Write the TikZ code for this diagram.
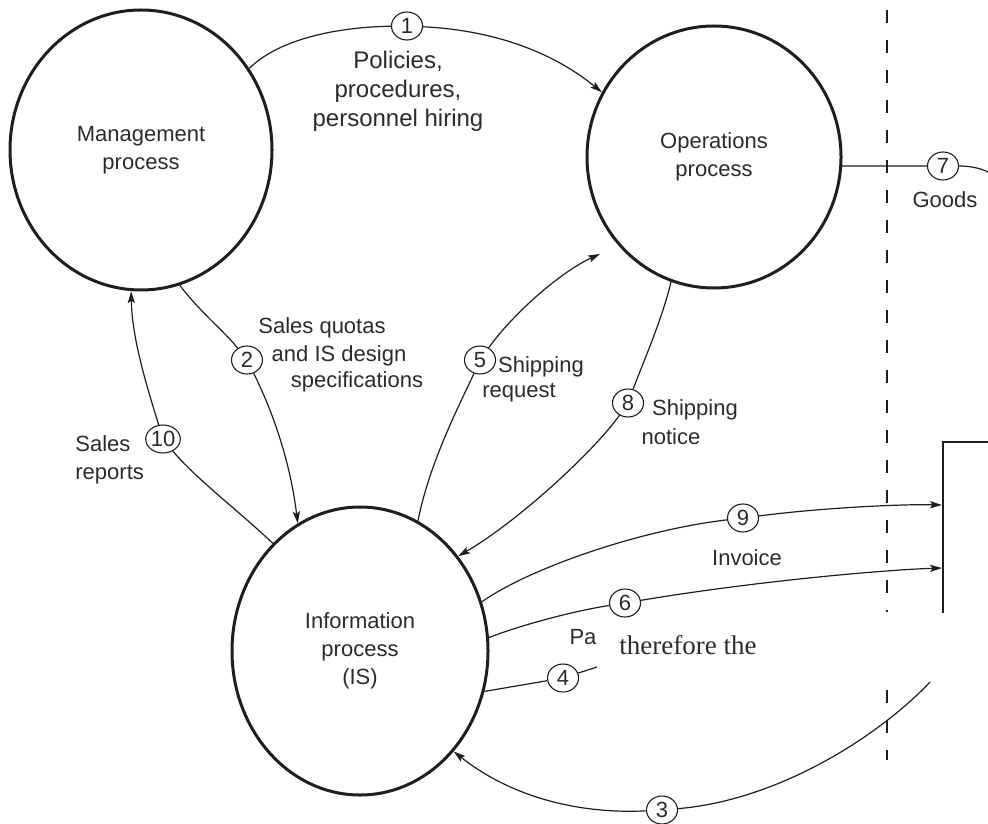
\documentclass[tikz,border=0pt]{standalone}
\usepackage{fontspec}
\setmainfont{Liberation Sans}
\newfontfamily\overlayserif{Liberation Serif}
\usetikzlibrary{arrows.meta,shapes.geometric}
\definecolor{ink}{HTML}{1E1E1E}
\definecolor{txt}{HTML}{2B2B2B}

\begin{document}
\begin{tikzpicture}[x=0.5pt,y=-0.5pt,
  proc/.style={ellipse,draw=ink,line width=1.5pt,inner sep=0pt,align=center,
    font=\fontsize{11}{14}\selectfont,text=txt},
  num/.style={ellipse,draw=ink,line width=0.55pt,minimum width=15.5pt,
    minimum height=14pt,inner sep=0pt,font=\fontsize{11}{13}\selectfont,text=txt},
  flow/.style={draw=ink,line width=0.6pt},
  lbl/.style={font=\fontsize{11}{14}\selectfont,text=txt,inner sep=0pt,align=center},
  tip/.style={-{Stealth[length=6pt,width=3.6pt,inset=1.2pt]}},
  boundary/.style={draw=ink,line width=1pt,dash pattern=on 6.5pt off 8.5pt},
]
\useasboundingbox (0,0) rectangle (988,823);

% processes
\node[proc,minimum width=131pt,minimum height=140pt] (M) at (141,150) {Management\\process};
\node[proc,minimum width=127pt,minimum height=131pt] (O) at (714,157) {Operations\\process};
\node[proc,minimum width=128pt,minimum height=144pt] (I) at (360,651) {Information\\process\\(IS)};

% flow numbers
\node[num] (n1) at (407,26) {1};
\node[num] (n2) at (247,360) {2};
\node[num] (n3) at (662,810) {3};
\node[num] (n4) at (563,678) {4};
\node[num] (n5) at (480,360) {5};
\node[num] (n6) at (625,603) {6};
\node[num] (n7) at (943,166) {7};
\node[num] (n8) at (628,403) {8};
\node[num] (n9) at (743,518) {9};
\node[num] (n10) at (163,439) {10};

% free ends
\coordinate (t5) at (600,254);
\coordinate (t7) at (988,172);
\coordinate (t4) at (597,667);
\coordinate (s3) at (930,682);
\coordinate (b9) at (942,505);
\coordinate (b6) at (942,568);

% external entity (partly shown)
\draw[ink,line width=1pt] (988,442) -- (943,442) -- (943,613);

% system boundary
\draw[boundary] (887,10) -- (887,612);
\draw[boundary] (887,690) -- (887,760);

% flows
\draw[flow] (M.37) .. controls (280,38) and (340,27) .. (n1);
\draw[flow,tip] (n1) .. controls (490,30) and (550,50) .. (O.150);
\draw[flow] (M.-74) .. controls (200,312) and (225,332) .. (n2);
\draw[flow,tip] (n2) .. controls (272,410) and (290,460) .. (I.116);
\draw[flow] (I.129) .. controls (240,512) and (195,478) .. (n10);
\draw[flow,tip] (n10) .. controls (148,390) and (132,340) .. (M.-94);
\draw[flow] (I.66) .. controls (430,460) and (462,400) .. (n5);
\draw[flow,tip] (n5) .. controls (512,315) and (560,272) .. (t5);
\draw[flow] (O.-109) .. controls (662,320) and (642,365) .. (n8);
\draw[flow,tip] (n8) .. controls (595,450) and (520,520) .. (I.44);
\draw[flow] (O.-4) -- (n7);
\draw[flow] (n7) .. controls (966,166) and (978,167) .. (t7);
\draw[flow] (I.22) .. controls (530,568) and (640,530) .. (n9);
\draw[flow,tip] (n9) .. controls (820,508) and (900,504) .. (b9);
\draw[flow] (I.6) .. controls (530,622) and (580,610) .. (n6);
\draw[flow,tip] (n6) .. controls (750,582) and (880,570) .. (b6);
\draw[flow] (I.-18) -- (n4);
\draw[flow] (n4) -- (t4);
\draw[flow] (s3) .. controls (880,735) and (780,800) .. (n3);
\draw[flow,tip] (n3) .. controls (585,814) and (515,800) .. (I.-47);

% flow labels
\node[lbl,font=\fontsize{12}{14.5}\selectfont] (l1) at (398,91) {Policies,\\procedures,\\personnel hiring};
\node[lbl] (l2a) at (322,328) {Sales quotas};
\node[lbl] (l2b) at (339,356) {and IS design};
\node[lbl] (l2c) at (357,382) {specifications};
\node[lbl,align=left,anchor=west] (l10) at (75,460) {Sales\\reports};
\node[lbl] (l5a) at (541,367) {Shipping};
\node[lbl] (l5b) at (519,393) {request};
\node[lbl] (l8a) at (695,410) {Shipping};
\node[lbl] (l8b) at (671,437) {notice};
\node[lbl] (l7) at (945,200) {Goods};
\node[lbl] (l9) at (747,558) {Invoice};
\node[lbl] (l6) at (583,637) {Pa};
\node[inner sep=0pt,text=txt,font=\overlayserif\fontsize{13.5}{16}\selectfont] (l6b) at (688,645) {therefore the};
\end{tikzpicture}
\end{document}
